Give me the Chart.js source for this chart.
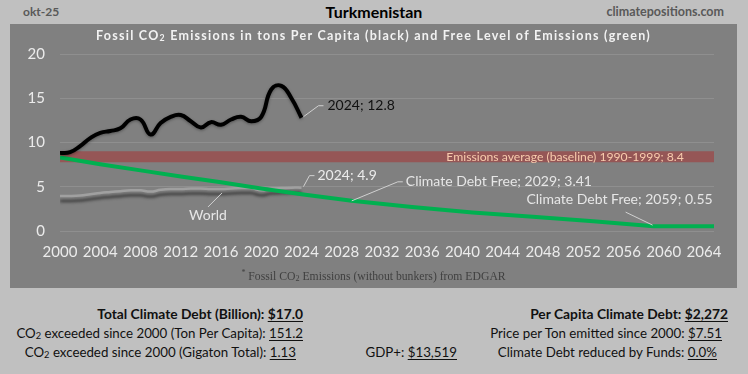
<!DOCTYPE html>
<html>
<head>
<meta charset="utf-8">
<script src="https://cdn.jsdelivr.net/npm/chart.js@4.4.1/dist/chart.umd.min.js"></script>
<style>
  body { margin: 0; background: #c0c0c0; font-family: Lato, "Open Sans", sans-serif; }
  #page { position: relative; width: 748px; height: 374px; background: #c0c0c0; overflow: hidden; }
  #panel { position: absolute; left: 10px; top: 24px; width: 727px; height: 264px; background: #808080; }
  #panel canvas { position: absolute; left: 0; top: 0; }
  .t { position: absolute; white-space: nowrap; line-height: 1; }
  .r { text-align: right; }
  .b { font-size: 13.8px; font-weight: bold; color: #111; }
  .n { font-size: 13.3px; color: #111; }
  u { text-underline-offset: 2px; }
  sub { font-size: 0.7em; vertical-align: -0.15em; line-height: 0; }
</style>
</head>
<body>
<div id="page">
  <div class="t" style="left:23px;top:6px;font-size:12px;font-weight:bold;color:#595959">okt-25</div>
  <div class="t" style="left:0;width:748px;text-align:center;top:4px;font-size:16px;font-weight:bold;color:#000">Turkmenistan</div>
  <div class="t r" style="right:24px;top:6px;font-size:12.5px;font-weight:bold;color:#595959">climatepositions.com</div>

  <div id="panel">
    <canvas id="myChart" width="727" height="264"></canvas>
    <div class="t" style="left:0;width:727px;text-align:center;top:6px;font-size:12.5px;font-weight:bold;color:#f2f2f2;letter-spacing:1.25px">Fossil CO<sub>2</sub> Emissions in tons Per Capita (black) and Free Level of Emissions (green)</div>
    <div class="t" style="left:0;width:727px;text-align:center;top:245px;font-size:11.7px;color:#404040;font-family:'Liberation Serif','DejaVu Serif',serif"><sup style="font-size:8px">*</sup> Fossil CO<sub>2</sub> Emissions (without bunkers) from EDGAR</div>
  </div>

  <div class="t r b" style="right:445px;top:307px">Total Climate Debt (Billion): <u>$17.0</u></div>
  <div class="t r n" style="right:445px;top:327px">CO<sub>2</sub> exceeded since 2000 (Ton Per Capita): <u>151.2</u></div>
  <div class="t r n" style="right:452px;top:346px">CO<sub>2</sub> exceeded since 2000 (Gigaton Total): <u>1.13</u></div>
  <div class="t r n" style="right:291px;top:346px">GDP+: <u>$13,519</u></div>
  <div class="t r b" style="right:20px;top:307px">Per Capita Climate Debt: <u>$2,272</u></div>
  <div class="t r n" style="right:26px;top:327px">Price per Ton emitted since 2000: <u>$7.51</u></div>
  <div class="t r n" style="right:31px;top:346px">Climate Debt reduced by Funds: <u>0.0%</u></div>
</div>

<script>
// per capita fossil CO2, Turkmenistan (tons)
const years = [2000, 2001, 2002, 2003, 2004, 2005, 2006, 2007, 2008, 2009, 2010, 2011, 2012,
	2013, 2014, 2015, 2016, 2017, 2018, 2019, 2020, 2021, 2022, 2023, 2024]
const co2 = [8.8, 8.9, 9.6, 10.5, 11.1, 11.3, 11.6, 12.6, 12.6, 10.9, 12.2, 12.9, 13.1,
	12.4, 11.7, 12.3, 12.0, 12.6, 12.9, 12.4, 12.9, 16.0, 16.4, 15.0, 12.8]
const world = [3.95, 3.95, 4.0, 4.15, 4.3, 4.4, 4.5, 4.6, 4.6, 4.45, 4.65, 4.75, 4.75,
	4.8, 4.8, 4.75, 4.75, 4.8, 4.85, 4.85, 4.6, 4.8, 4.85, 4.9, 4.9]
// free level of emissions (green)
const freeYears = [2000, 2004, 2008, 2012, 2016, 2020, 2024, 2029, 2035, 2041, 2047, 2053, 2059, 2065]
const freeLevel = [8.3, 7.55, 6.85, 6.15, 5.5, 4.8, 4.15, 3.41, 2.7, 2.1, 1.6, 1.1, 0.55, 0.55]
const baseline = 8.4
const baselineYears = [2000, 2065]
const xTicks = [2000, 2004, 2008, 2012, 2016, 2020, 2024, 2028, 2032, 2036, 2040, 2044, 2048,
	2052, 2056, 2060, 2064]
const yTicks = [0, 5, 10, 15, 20]

function pts(xs, ys) {
	return xs.map((x, i) => ({ x: x, y: ys[i] }))
}

const font = 'Lato, "Open Sans", sans-serif'

// soft shadow under selected lines
const shadowPlugin = {
	id: 'shadow',
	beforeDatasetDraw(chart, args) {
		const ds = chart.data.datasets[args.index]
		if (!ds.shadow) return
		const ctx = chart.ctx
		ctx.save()
		ctx.shadowColor = ds.shadow.color
		ctx.shadowBlur = ds.shadow.blur
		ctx.shadowOffsetX = 0
		ctx.shadowOffsetY = ds.shadow.y
	},
	afterDatasetDraw(chart, args) {
		const ds = chart.data.datasets[args.index]
		if (ds.shadow) chart.ctx.restore()
	},
}

// data labels with leader lines
const labelPlugin = {
	id: 'labels',
	afterDatasetsDraw(chart) {
		const ctx = chart.ctx
		const x = chart.scales.x
		const y = chart.scales.y
		function leader(pts, color) {
			ctx.beginPath()
			ctx.strokeStyle = color
			ctx.lineWidth = 1
			ctx.moveTo(pts[0][0], pts[0][1])
			for (let i = 1; i < pts.length; i++) ctx.lineTo(pts[i][0], pts[i][1])
			ctx.stroke()
		}
		function text(s, px, py, color, size, align) {
			ctx.fillStyle = color
			ctx.font = size + 'px ' + font
			ctx.textAlign = align || 'left'
			ctx.textBaseline = 'middle'
			ctx.fillText(s, px, py)
		}
		ctx.save()
		// black 2024
		let px = x.getPixelForValue(2024), py = y.getPixelForValue(co2[co2.length - 1])
		leader([[px + 2, py - 1], [px + 17, py - 12], [px + 22, py - 12]], '#d0d0d0')
		text('2024; ' + co2[co2.length - 1], px + 26, py - 12, '#111', 14)
		// world 2024
		px = x.getPixelForValue(2024); py = y.getPixelForValue(world[world.length - 1])
		leader([[px + 2, py - 1], [px + 8, py - 12], [px + 13, py - 12]], '#d0d0d0')
		text('2024; 4.9', px + 16, py - 12, '#ececec', 14)
		// world label
		px = x.getPixelForValue(2016); py = y.getPixelForValue(4.75)
		leader([[px + 1, py + 4], [px - 13, py + 18]], '#d0d0d0')
		text('World', px - 13, py + 27, '#e6e6e6', 14, 'center')
		// debt free 2029
		px = x.getPixelForValue(2029); py = y.getPixelForValue(3.41)
		leader([[px, py], [px + 46, py - 19], [px + 51, py - 19]], '#d0d0d0')
		text('Climate Debt Free; 2029; 3.41', px + 54, py - 19, '#e6e6e6', 14)
		// debt free 2059
		px = x.getPixelForValue(2059); py = y.getPixelForValue(0.55)
		leader([[px - 1, py - 1], [px - 28, py - 14]], '#d0d0d0')
		text('Climate Debt Free; 2059; 0.55', px + 59, py - 27, '#e6e6e6', 14, 'right')
		// baseline
		text('Emissions average (baseline) 1990-1999; ' + baseline, x.getPixelForValue(2062),
			y.getPixelForValue(baseline), '#f8cbad', 12.2, 'right')
		ctx.restore()
	},
}

const ctx = document.getElementById('myChart')
new Chart(ctx.getContext('2d'), {
	type: 'line',
	data: {
		datasets: [
			{
				label: 'Turkmenistan',
				data: pts(years, co2),
				borderColor: '#000',
				borderWidth: 4,
				pointRadius: 0,
				tension: 0.45,
				shadow: { color: 'rgba(0,0,0,0.35)', blur: 3, y: 1 },
			},
			{
				label: 'Free level',
				data: pts(freeYears, freeLevel),
				borderColor: '#00b050',
				borderWidth: 4,
				pointRadius: 0,
				tension: 0,
			},
			{
				label: 'World',
				data: pts(years, world),
				borderColor: '#a0a0a0',
				borderWidth: 2.5,
				pointRadius: 0,
				tension: 0.4,
				shadow: { color: 'rgba(40,40,40,0.8)', blur: 3, y: 5 },
			},
			{
				label: 'Baseline',
				data: pts(baselineYears, [baseline, baseline]),
				borderColor: '#955656',
				borderWidth: 11,
				borderCapStyle: 'butt',
				pointRadius: 0,
				tension: 0,
			},
		],
	},
	options: {
		animation: false,
		responsive: false,
		layout: { padding: { top: 30, right: 23, bottom: 20, left: 0 } },
		plugins: { legend: { display: false }, tooltip: { enabled: false } },
		scales: {
			x: {
				type: 'linear',
				min: 2000,
				max: 2065,
				afterBuildTicks: (s) => { s.ticks = xTicks.map((v) => ({ value: v })) },
				afterFit: (s) => { s.height = 37 },
				grid: { display: false, drawTicks: false },
				border: { display: false },
				ticks: {
					color: '#ebebeb',
					font: { family: font, size: 15 },
					padding: 12,
					maxRotation: 0,
					autoSkip: false,
					callback: (v) => String(v),
				},
			},
			y: {
				min: 0,
				max: 20,
				afterBuildTicks: (s) => { s.ticks = yTicks.map((v) => ({ value: v })) },
				afterFit: (s) => { s.width = 50 },
				grid: { color: '#8f8f8f', drawTicks: false },
				border: { display: false },
				ticks: {
					color: '#ebebeb',
					font: { family: font, size: 15 },
					padding: 15,
				},
			},
		},
	},
	plugins: [shadowPlugin, labelPlugin],
})
</script>
</body>
</html>
